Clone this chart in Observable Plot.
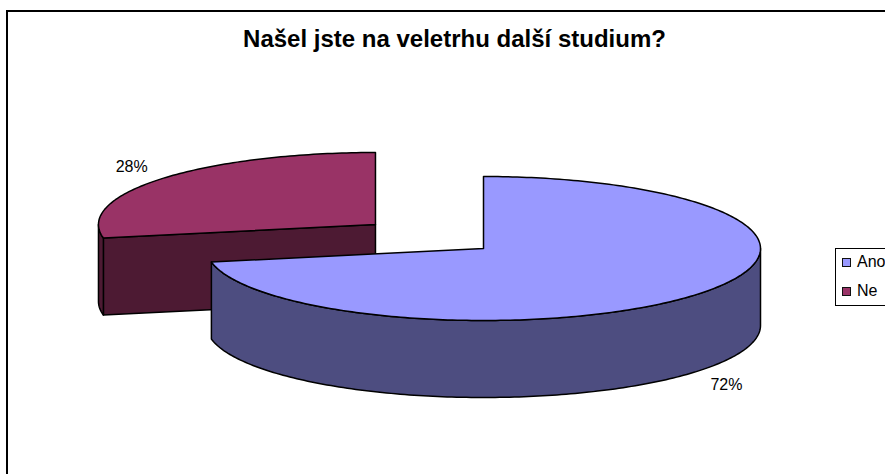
<!DOCTYPE html>
<html>
<head>
<meta charset="utf-8">
<script src="https://cdn.jsdelivr.net/npm/d3@7"></script>
<script src="https://cdn.jsdelivr.net/npm/@observablehq/plot@0.6"></script>
<style>
  html,body{margin:0;padding:0;background:#fff;width:885px;height:474px;overflow:hidden;font-family:"Liberation Sans",Arial,sans-serif}
  #page{position:relative;width:885px;height:474px;overflow:hidden}
  #page svg{position:absolute;left:0;top:0}
  #frame{position:absolute;left:6px;top:10px;width:1000px;height:600px;border-left:2px solid #000;border-top:2px solid #000;box-sizing:border-box}
  h1{position:absolute;left:0;top:27px;width:909px;margin:0;text-align:center;font-size:24px;line-height:24px;font-weight:bold;color:#000}
  #legend{position:absolute;left:835px;top:248px;width:100px;height:58px;box-sizing:border-box;border:1px solid #000;background:#fff;font-size:16px;color:#000}
  #legend div{position:absolute;left:0;white-space:nowrap}
  #legend i{position:absolute;left:6px;top:3px;width:7px;height:7px;border:1.5px solid #111;display:block}
  #legend span{position:absolute;left:21px;top:-2px}
</style>
</head>
<body>
<div id="page">
  <div id="frame"></div>
  <h1 id="title"></h1>
  <div id="legend"></div>
</div>
<script>
const title = "Našel jste na veletrhu další studium?";
const categories = ["Ano", "Ne"];
const values = [72, 28];
const labels = ["72%", "28%"];
const topColors = ["#9999FF", "#993366"];
const sideColors = ["#4D4D80", "#4D1A33"];

// Pie model in unit coordinates; the x and y scales place it on the page.
const depth = 77 / 72;
const explode = [[0, 0], [-0.39, 0.333]];
const labelAt = [[0.877, -1.888], [-1.27, 1.14]];

const total = d3.sum(values);
let run = 0;
const slices = categories.map((name, i) => {
  const a0 = run / total * 360;
  run += values[i];
  const a1 = run / total * 360;
  return {name, i, a0, a1, ox: explode[i][0], oy: explode[i][1]};
});

function pt(s, deg) {
  const t = deg * Math.PI / 180;
  return {x: s.ox + Math.sin(t), y: s.oy + Math.cos(t)};
}
function arc(s, from, to) {
  const n = Math.max(2, Math.ceil(Math.abs(to - from)));
  return d3.range(n + 1).map(k => pt(s, from + (to - from) * k / n));
}
const hub = s => ({x: s.ox, y: s.oy});
const down = p => ({x: p.x, y: p.y - depth});

const marks = [];
for (const s of [slices[1], slices[0]]) {
  const fill = topColors[s.i], side = sideColors[s.i];
  const style = {x: "x", y: "y", stroke: "#000", strokeWidth: 1.5, curve: "linear-closed", strokeLinejoin: "round"};
  if (s.i === 1) {
    // cut face along the first radius, facing the viewer on the exploded slice
    const start = pt(s, s.a0);
    marks.push(Plot.line([hub(s), start, down(start), down(hub(s))], {...style, fill: side}));
    // small outer wall at the far left of the exploded slice
    const wall = arc(s, s.a0, 270);
    marks.push(Plot.line([...wall, ...wall.map(down).reverse()], {...style, fill: side}));
  } else {
    // outer wall of the front part of the main slice
    const wall = arc(s, 90, s.a1);
    marks.push(Plot.line([...wall, ...wall.map(down).reverse()], {...style, fill: side}));
  }
  marks.push(Plot.line([hub(s), ...arc(s, s.a0, s.a1)], {...style, fill}));
}
marks.push(Plot.text(labels.map((t, i) => ({t, x: labelAt[i][0], y: labelAt[i][1]})), {
  x: "x", y: "y", text: "t", fontSize: 16, fill: "#000", fontFamily: "Liberation Sans, Arial, sans-serif"
}));

const chart = Plot.plot({
  width: 885,
  height: 474,
  margin: 0,
  style: {background: "transparent", overflow: "visible"},
  x: {domain: [-1, 1], range: [206, 760], axis: null},
  y: {domain: [-1, 1], range: [320, 176], axis: null},
  marks
});
document.getElementById("page").insertBefore(chart, document.getElementById("title"));
document.getElementById("title").textContent = title;

const legend = document.getElementById("legend");
categories.forEach((c, i) => {
  const row = document.createElement("div");
  row.style.top = (6 + i * 29) + "px";
  row.innerHTML = `<i style="background:${topColors[i]}"></i><span>${c}</span>`;
  legend.appendChild(row);
});
</script>
</body>
</html>
